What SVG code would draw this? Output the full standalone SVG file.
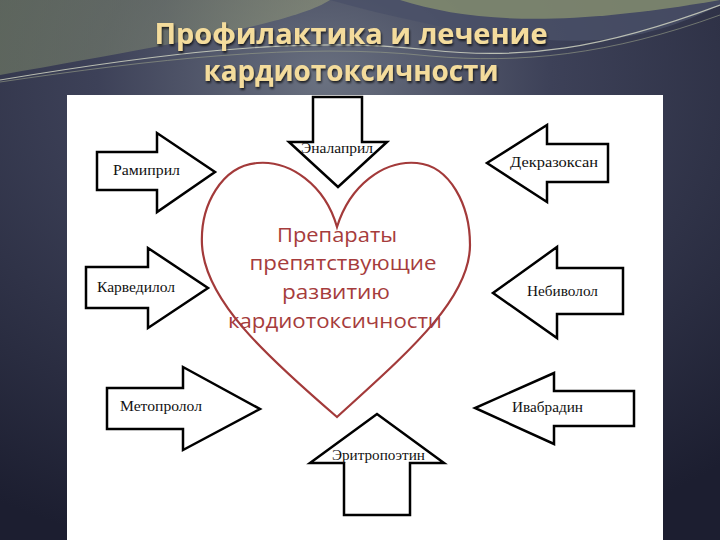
<svg xmlns="http://www.w3.org/2000/svg" width="720" height="540" viewBox="0 0 720 540">
<defs>
<radialGradient id="bg" cx="0.45" cy="0.15" r="0.9">
<stop offset="0" stop-color="#6a7180"/>
<stop offset="0.35" stop-color="#3d4158"/>
<stop offset="1" stop-color="#1c1e30"/>
</radialGradient>
<linearGradient id="olive" x1="0" y1="0" x2="1" y2="0">
<stop offset="0" stop-color="#7e8a6a"/>
<stop offset="0.5" stop-color="#7d8570"/>
<stop offset="1" stop-color="#9aa07a"/>
</linearGradient>
<filter id="sh" x="-5%" y="-5%" width="110%" height="120%">
<feDropShadow dx="1" dy="2" stdDeviation="1.2" flood-color="#000" flood-opacity="0.7"/>
</filter>
<style>
.arrow{fill:#fff;stroke:#000;stroke-width:2.5;stroke-linejoin:miter}
.lbl{font-family:"Liberation Serif","Times New Roman",serif;font-size:14px;fill:#111}
.heart{fill:none;stroke:#a33a3a;stroke-width:2.2}
.htxt{font-family:"Open Sans","Noto Sans",sans-serif;font-size:20px;fill:#a63c3c;text-anchor:middle}
.title{font-family:"Open Sans","Liberation Sans",sans-serif;font-size:29px;font-weight:bold;fill:#f4dc9c;text-anchor:middle}
</style>
</defs>
<rect width="720" height="540" fill="url(#bg)"/>
<path d="M0,0 H330 C300,20 200,40 0,75 Z" fill="url(#olive)" opacity="0.55"/>
<path d="M330,0 C420,25 520,45 600,40 C650,36 690,20 720,5 V0 Z" fill="#4a5068" opacity="0.8"/>
<path d="M400,0 C470,22 560,28 720,0 Z" fill="#8f9870" opacity="0.7"/>
<path d="M0,80 C150,55 300,35 430,50 C520,60 600,50 720,5" fill="none" stroke="#d8dcc8" stroke-width="1.2" opacity="0.8"/>
<path d="M0,82 C150,60 300,42 430,56 C520,64 610,55 720,15" fill="none" stroke="#9aa088" stroke-width="1" opacity="0.6"/>
<g id="title" filter="url(#sh)">
<text class="title" x="351" y="44" textLength="393" lengthAdjust="spacingAndGlyphs">Профилактика и лечение</text>
<text class="title" x="351" y="81" textLength="295" lengthAdjust="spacingAndGlyphs">кардиотоксичности</text>
</g>
<rect x="67" y="95" width="596" height="445" fill="#fff"/>
<g id="heart">
<path class="heart" d="M337,227 C325,185 290,160 257,163 C222,166 200,205 202,245 C205,300 265,355 337,417 C405,355 470,300 470,245 C470,205 450,166 417,163 C384,160 350,185 337,227 Z"/>
<text class="htxt" x="337" y="242" textLength="120" lengthAdjust="spacingAndGlyphs">Препараты</text>
<text class="htxt" x="343" y="270" textLength="187" lengthAdjust="spacingAndGlyphs">препятствующие</text>
<text class="htxt" x="336" y="299" textLength="108" lengthAdjust="spacingAndGlyphs">развитию</text>
<text class="htxt" x="335" y="328" textLength="214" lengthAdjust="spacingAndGlyphs">кардиотоксичности</text>
</g>
<g id="connectors">
<g id="enalapril">
<polygon class="arrow" points="313,97 362,97 362,142 387,142 338,187 289,142 313,142"/>
<text class="lbl" x="301" y="153" textLength="72" lengthAdjust="spacingAndGlyphs">Эналаприл</text>
</g>
<g id="ramipril">
<polygon class="arrow" points="97,152 157,152 157,133 215,172 157,212 157,190 97,190"/>
<text class="lbl" x="113" y="175" textLength="67" lengthAdjust="spacingAndGlyphs">Рамиприл</text>
</g>
<g id="dexrazoxane">
<polygon class="arrow" points="608,144 547,144 547,125 487,163 547,202 547,182 608,182"/>
<text class="lbl" x="510" y="167" textLength="88" lengthAdjust="spacingAndGlyphs">Декразоксан</text>
</g>
<g id="carvedilol">
<polygon class="arrow" points="86,267 148,267 148,248 208,288 148,328 148,308 86,308"/>
<text class="lbl" x="97" y="292" textLength="78" lengthAdjust="spacingAndGlyphs">Карведилол</text>
</g>
<g id="nebivolol">
<polygon class="arrow" points="623,268 557,268 557,247 493,293 557,338 557,314 623,314"/>
<text class="lbl" x="527" y="296" textLength="71" lengthAdjust="spacingAndGlyphs">Небиволол</text>
</g>
<g id="metoprolol">
<polygon class="arrow" points="107,388 183,388 183,367 260,409 183,450 183,429 107,429"/>
<text class="lbl" x="120" y="411" textLength="82" lengthAdjust="spacingAndGlyphs">Метопролол</text>
</g>
<g id="erythropoietin">
<polygon class="arrow" points="344,515 410,515 410,463 444,463 377,414 310,463 344,463"/>
<text class="lbl" x="332" y="460" textLength="93" lengthAdjust="spacingAndGlyphs">Эритропоэтин</text>
</g>
<g id="ivabradine">
<polygon class="arrow" points="634,391 554,391 554,373 475,408 554,444 554,426 634,426"/>
<text class="lbl" x="512" y="412" textLength="71" lengthAdjust="spacingAndGlyphs">Ивабрадин</text>
</g>
</g>
</svg>
